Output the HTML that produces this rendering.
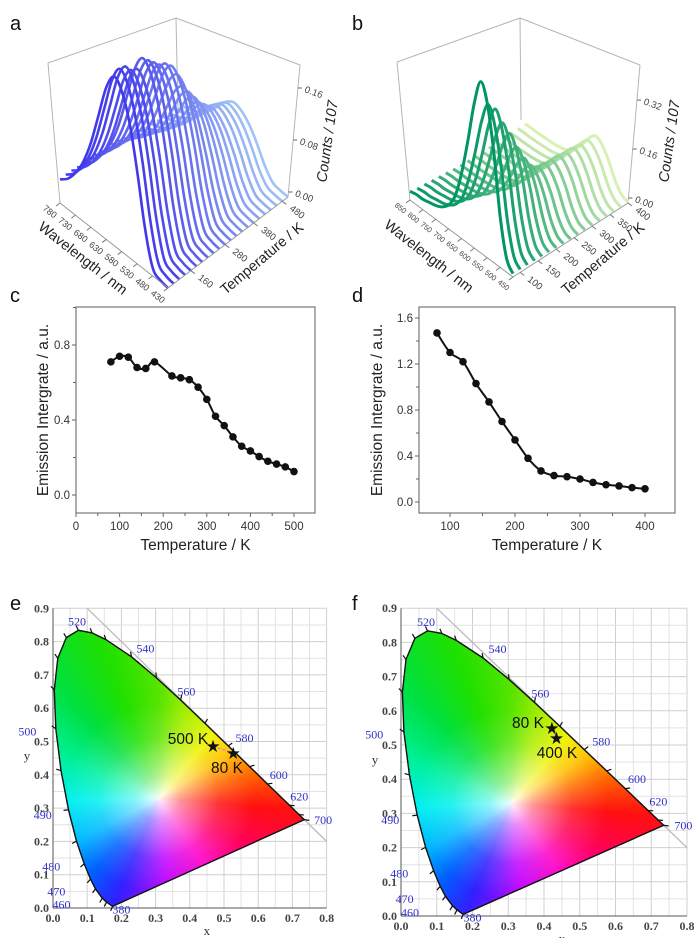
<!DOCTYPE html>
<html><head><meta charset="utf-8">
<style>
html,body{margin:0;padding:0;background:#fff;}
#wrap{position:relative;width:700px;height:938px;overflow:hidden;}
svg{position:absolute;left:0;top:0;}
.gamut{position:absolute;left:0;top:0;width:700px;height:938px;}
text{font-family:"Liberation Sans",sans-serif;}
.ser{font-family:"Liberation Serif",serif;}
</style></head>
<body>
<div id="wrap">
<svg id="back" width="700" height="938"></svg>
<div id="gamutE" class="gamut"></div>
<div id="gamutF" class="gamut"></div>
<svg id="main" width="700" height="938"></svg>
</div>
<script>
// ---------- data ----------
const aTemps = [80,100,120,140,160,180,200,220,240,260,280,300,320,340,360,380,400,420,440,460,480,500];
const aPeaks = [0.26,0.265,0.262,0.25,0.245,0.255,0.245,0.235,0.225,0.22,0.21,0.19,0.165,0.15,0.135,0.12,0.11,0.1,0.095,0.09,0.085,0.08];
const aWls = [430,455,480,505,530,555,580,605,630,655,680,705,730,755,780];
const aShape = [0.0,0.01,0.05,0.25,0.55,0.8,0.95,1.0,0.9,0.7,0.5,0.35,0.25,0.18,0.14];
const aTempTicks = [160,280,380,480];
const aWlTicks = [430,480,530,580,630,680,730,780];
const aCountTicks = [0.00,0.08,0.16];

const bTemps = [80,100,120,140,160,180,200,220,240,260,280,300,320,340,360,380,400];
const bPeaks = [0.56,0.47,0.44,0.38,0.33,0.27,0.22,0.18,0.16,0.155,0.15,0.15,0.145,0.145,0.14,0.14,0.14];
const bWls = [450,475,500,525,550,575,600,625,650,675,700,725,750,775,800,825,850];
const bShape = [0.02,0.08,0.3,0.65,0.9,1.0,0.85,0.6,0.38,0.22,0.14,0.1,0.08,0.07,0.06,0.06,0.05];
const bTempTicks = [100,150,200,250,300,350,400];
const bWlTicks = [450,500,550,600,650,700,750,800,850];
const bCountTicks = [0.00,0.16,0.32];

const cTemps = [80,100,120,140,160,180,220,240,260,280,300,320,340,360,380,400,420,440,460,480,500];
const cValues = [0.71,0.74,0.735,0.68,0.675,0.71,0.635,0.625,0.615,0.575,0.51,0.42,0.37,0.31,0.26,0.235,0.205,0.18,0.165,0.15,0.125];
const cXTicks = [0,100,200,300,400,500];
const cYTicks = [0.0,0.4,0.8];

const dTemps = [80,100,120,140,160,180,200,220,240,260,280,300,320,340,360,380,400];
const dValues = [1.47,1.30,1.22,1.03,0.87,0.70,0.54,0.38,0.27,0.23,0.22,0.20,0.17,0.15,0.14,0.125,0.115];
const dXTicks = [100,200,300,400];
const dYTicks = [0.0,0.4,0.8,1.2,1.6];

const locusNm = [380,450,460,470,475,480,485,490,495,500,505,510,515,520,525,530,540,550,560,570,580,590,600,620,640,700];
const locusX = [0.1741,0.1566,0.1440,0.1241,0.1096,0.0913,0.0687,0.0454,0.0235,0.0082,0.0039,0.0139,0.0389,0.0743,0.1142,0.1547,0.2296,0.3016,0.3731,0.4441,0.5125,0.5752,0.6270,0.6915,0.7190,0.7347];
const locusY = [0.0050,0.0177,0.0297,0.0578,0.0868,0.1327,0.2007,0.2950,0.4127,0.5384,0.6548,0.7502,0.8120,0.8338,0.8262,0.8059,0.7543,0.6923,0.6245,0.5547,0.4866,0.4242,0.3725,0.3083,0.2809,0.2653];
const nmLabels = ['520','540','560','580','600','620','700','500','490','480','470','460','380'];
const nmLabelX = [0.07,0.27,0.39,0.56,0.66,0.72,0.79,-0.075,-0.03,-0.005,0.01,0.025,0.2];
const nmLabelY = [0.86,0.78,0.65,0.51,0.40,0.335,0.265,0.53,0.28,0.125,0.05,0.01,-0.005];
const cieXTicks = [0,0.1,0.2,0.3,0.4,0.5,0.6,0.7,0.8];
const cieYTicks = [0,0.1,0.2,0.3,0.4,0.5,0.6,0.7,0.8,0.9];
const eStarsX = [0.468,0.527];
const eStarsY = [0.486,0.465];
const eStarLabels = ['500 K','80 K'];
const fStarsX = [0.422,0.435];
const fStarsY = [0.55,0.52];
const fStarLabels = ['80 K','400 K'];

// ---------- helpers ----------
const NS='http://www.w3.org/2000/svg';
const main=document.getElementById('main');
const back=document.getElementById('back');
function add(parent,tag,attrs,name,text){
  const el=document.createElementNS(NS,tag);
  for(const k in attrs) el.setAttribute(k,attrs[k]);
  
  
  if(text!==undefined) el.textContent=text;
  parent.appendChild(el);
  return el;
}
function smoothPath(pts){
  let d='M'+pts[0][0].toFixed(1)+','+pts[0][1].toFixed(1);
  for(let i=0;i<pts.length-1;i++){
    const p0=pts[i-1]||pts[i],p1=pts[i],p2=pts[i+1],p3=pts[i+2]||p2;
    const c1=[p1[0]+(p2[0]-p0[0])/6,p1[1]+(p2[1]-p0[1])/6];
    const c2=[p2[0]-(p3[0]-p1[0])/6,p2[1]-(p3[1]-p1[1])/6];
    d+=' C'+c1[0].toFixed(1)+','+c1[1].toFixed(1)+' '+c2[0].toFixed(1)+','+c2[1].toFixed(1)+' '+p2[0].toFixed(1)+','+p2[1].toFixed(1);
  }
  return d;
}
function lerpColor(a,b,t){return 'rgb('+a.map((v,i)=>Math.round(v+(b[i]-v)*t)).join(',')+')';}

// panel letters
[['a',10,30],['b',352,30],['c',10,302],['d',352,302],['e',10,610],['f',352,610]].forEach(p=>{
  add(main,'text',{x:p[1],y:p[2],'font-size':20,fill:'#111'},'panel-label-'+p[0],p[0]);
});

// ---------- waterfall ----------
function waterfall(cfg,temps,peaks,wls,shape,tTicks,wTicks,cTicks,key){
  const g=add(main,'g',{},key+'-waterfall-plot');
  const F=cfg.F,BL=cfg.BL,BR=cfg.BR;
  const tPos=t=>(t-cfg.tmin)/(cfg.tmax-cfg.tmin);
  const wPos=w=>(w-cfg.wmin)/(cfg.wmax-cfg.wmin);
  const P=(ti,wn,h)=>[F[0]+(BR[0]-F[0])*ti+(BL[0]-F[0])*wn, F[1]+(BR[1]-F[1])*ti+(BL[1]-F[1])*wn-h*cfg.vs];
  const fr=add(g,'g',{stroke:'#b5b5b5','stroke-width':1,fill:'none'},key+'-box-frame');
  cfg.frame.forEach((l,i)=>add(fr,'line',{x1:l[0],y1:l[1],x2:l[2],y2:l[3]},key+'-frame-edge'));
  for(let i=temps.length-1;i>=0;i--){
    const ti=tPos(temps[i]);
    const pts=wls.map((w,k)=>P(ti,wPos(w),peaks[i]*shape[k]));
    const col=lerpColor(cfg.c0,cfg.c1,i/(temps.length-1));
    add(g,'path',{d:smoothPath(pts),fill:'none',stroke:col,'stroke-width':cfg.sw,'stroke-linejoin':'round'},key+'-spectrum-'+temps[i]+'K');
  }
  add(g,'line',{x1:BL[0],y1:BL[1],x2:F[0],y2:F[1],stroke:'#999','stroke-width':1},key+'-wavelength-axis');
  add(g,'line',{x1:F[0],y1:F[1],x2:BR[0],y2:BR[1],stroke:'#999','stroke-width':1},key+'-temperature-axis');
  wTicks.forEach(w=>{
    const p=P(0,wPos(w),0);
    add(g,'line',{x1:p[0],y1:p[1],x2:p[0]-4,y2:p[1]+3,stroke:'#777'},key+'-wavelength-tick');
    const lx=p[0]-cfg.wo[0], ly=p[1]+cfg.wo[1];
    add(g,'text',{x:lx,y:ly,'font-size':cfg.wfs,fill:'#444','text-anchor':'middle',transform:'rotate(38 '+lx+' '+ly+')'},key+'-wavelength-tick-label',w);
  });
  tTicks.forEach(t=>{
    const p=P(tPos(t),0,0);
    add(g,'line',{x1:p[0],y1:p[1],x2:p[0]+4,y2:p[1]+3,stroke:'#777'},key+'-temperature-tick');
    add(g,'text',{x:p[0]+13,y:p[1]+13,'font-size':9.5,fill:'#444','text-anchor':'middle',transform:'rotate(38 '+(p[0]+13)+' '+(p[1]+13)+')'},key+'-temperature-tick-label',t);
  });
  const R0=cfg.rTop,R1=cfg.rBot;
  cTicks.forEach(v=>{
    const y=cfg.c0y-v*cfg.vs;
    const x=R1[0]+(R0[0]-R1[0])*(R1[1]-y)/(R1[1]-R0[1]);
    add(g,'line',{x1:x,y1:y,x2:x+4,y2:y,stroke:'#666'},key+'-count-tick');
    add(g,'text',{x:x+6,y:y+4,'font-size':9.5,fill:'#444',transform:'rotate(20 '+(x+6)+' '+(y+4)+')'},key+'-count-tick-label',v.toFixed(2));
  });
  add(g,'text',{x:cfg.wt[0],y:cfg.wt[1],'font-size':14.5,fill:'#222','text-anchor':'middle',transform:'rotate(38 '+cfg.wt[0]+' '+cfg.wt[1]+')'},key+'-wavelength-title','Wavelength / nm');
  add(g,'text',{x:cfg.tt[0],y:cfg.tt[1],'font-size':14.5,fill:'#222','text-anchor':'middle',transform:'rotate(-40 '+cfg.tt[0]+' '+cfg.tt[1]+')'},key+'-temperature-title','Temperature / K');
  add(g,'text',{x:cfg.ct[0],y:cfg.ct[1],'font-size':14.5,'font-style':'italic',fill:'#222','text-anchor':'middle',transform:'rotate(-82 '+cfg.ct[0]+' '+cfg.ct[1]+')'},key+'-counts-title','Counts / 107');
}
waterfall({F:[168,288],BL:[60,203],BR:[288,197],vs:650,tmin:80,tmax:500,wmin:430,wmax:780,
  c0:[65,55,235],c1:[160,195,245],sw:2.6,c0y:192,rTop:[300,65],rBot:[288,197],wo:[12,11],wfs:9,
  frame:[[48,63,176,18],[176,18,300,65],[176,18,178,112],[48,63,60,203],[300,65,288,197]],
  wt:[80,262],tt:[265,262],ct:[332,142]},aTemps,aPeaks,aWls,aShape,aTempTicks,aWlTicks,aCountTicks,'a');
waterfall({F:[513,277],BL:[410,200],BR:[628,203],vs:306,tmin:80,tmax:400,wmin:450,wmax:850,
  c0:[0,150,100],c1:[215,240,180],sw:3,c0y:198,rTop:[640,65],rBot:[628,203],wo:[11,10],wfs:7.5,
  frame:[[397,62,520,18],[520,18,640,65],[520,18,521,120],[397,62,410,200],[640,65,628,203]],
  wt:[426,260],tt:[606,262],ct:[674,142]},bTemps,bPeaks,bWls,bShape,bTempTicks,bWlTicks,bCountTicks,'b');

// ---------- line charts ----------
function lineChart(cfg,xs,ys,xTicks,yTicks,key){
  const g=add(main,'g',{},key+'-line-chart');
  const X=v=>cfg.x0+(v-cfg.xv0)*cfg.sx, Y=v=>cfg.y0-v*cfg.sy;
  add(g,'rect',{x:cfg.L,y:cfg.T,width:cfg.R-cfg.L,height:cfg.B-cfg.T,fill:'none',stroke:'#777','stroke-width':1.2},key+'-plot-frame');
  xTicks.forEach(v=>{
    add(g,'line',{x1:X(v),y1:cfg.B,x2:X(v),y2:cfg.B+4,stroke:'#666'},key+'-x-tick');
    add(g,'text',{x:X(v),y:cfg.B+17,'font-size':11.5,fill:'#333','text-anchor':'middle'},key+'-x-tick-label',v);
    const m=v+cfg.xminor; if(X(m)<cfg.R) add(g,'line',{x1:X(m),y1:cfg.B,x2:X(m),y2:cfg.B+3,stroke:'#666'},key+'-x-minor-tick');
  });
  yTicks.forEach(v=>{
    add(g,'line',{x1:cfg.L,y1:Y(v),x2:cfg.L-4,y2:Y(v),stroke:'#666'},key+'-y-tick');
    add(g,'text',{x:cfg.L-6,y:Y(v)+4,'font-size':11.5,fill:'#333','text-anchor':'end'},key+'-y-tick-label',v.toFixed(1));
    const m=v+0.2; if(Y(m)>cfg.T) add(g,'line',{x1:cfg.L,y1:Y(m),x2:cfg.L-3,y2:Y(m),stroke:'#666'},key+'-y-minor-tick');
  });
  add(g,'path',{d:smoothPath(xs.map((v,i)=>[X(v),Y(ys[i])])),fill:'none',stroke:'#111','stroke-width':2},key+'-series-line');
  xs.forEach((v,i)=>add(g,'circle',{cx:X(v),cy:Y(ys[i]),r:3.8,fill:'#111'},key+'-point-'+v+'K'));
  add(g,'text',{x:(cfg.L+cfg.R)/2,y:cfg.B+37,'font-size':15.5,fill:'#222','text-anchor':'middle'},key+'-x-axis-title','Temperature / K');
  add(g,'text',{x:cfg.yt,y:410,'font-size':15.5,fill:'#222','text-anchor':'middle',transform:'rotate(-90 '+cfg.yt+' 410)'},key+'-y-axis-title','Emission Intergrate / a.u.');
}
lineChart({L:76,R:315,T:307,B:513,x0:76,xv0:0,sx:0.436,y0:495,sy:187.5,xminor:50,yt:48},cTemps,cValues,cXTicks,cYTicks,'c');
lineChart({L:419,R:675,T:307,B:513,x0:450,xv0:100,sx:0.65,y0:502,sy:115,xminor:50,yt:382},dTemps,dValues,dXTicks,dYTicks,'d');

// ---------- CIE ----------
function cie(cfg,sx,sy,slabels,key,gamutId){
  const X=v=>cfg.x0+v*cfg.sx, Y=v=>cfg.y0-v*cfg.sy;
  const gb=add(back,'g',{},key+'-grid');
  for(let i=0;i<=16;i++){const v=i*0.05;add(gb,'line',{x1:X(v),y1:Y(0),x2:X(v),y2:Y(0.9),stroke:i%2?'#e2e2e2':'#cfcfcf','stroke-width':1},key+'-grid-vline');}
  for(let i=0;i<=18;i++){const v=i*0.05;add(gb,'line',{x1:X(0),y1:Y(v),x2:X(0.8),y2:Y(v),stroke:i%2?'#e2e2e2':'#cfcfcf','stroke-width':1},key+'-grid-hline');}
  add(gb,'line',{x1:X(0.1),y1:Y(0.9),x2:X(0.8),y2:Y(0.2),stroke:'#bbb','stroke-width':1.3},key+'-diagonal-line');
  const pts=locusX.map((v,i)=>X(v).toFixed(1)+'px '+Y(locusY[i]).toFixed(1)+'px').join(',');
  const gd=document.getElementById(gamutId);
  const wx=X(0.31),wy=Y(0.33);
  gd.style.clipPath='polygon('+pts+')';
  gd.style.background='radial-gradient(circle at '+wx+'px '+wy+'px, rgba(255,255,255,0.95) 0px, rgba(255,255,255,0.55) 22px, rgba(255,255,255,0.15) 60px, rgba(255,255,255,0) 95px), conic-gradient(from 0deg at '+wx+'px '+wy+'px, #58e400 0deg, #a8ee00 18deg, #eef200 40deg, #ffc000 58deg, #ff6a00 75deg, #ff1010 95deg, #ff0060 120deg, #ff00c8 145deg, #c000ff 175deg, #3020ff 203deg, #0060ff 222deg, #00b8ff 242deg, #00f0f0 268deg, #00f0a0 292deg, #00e040 318deg, #20e000 340deg, #58e400 360deg)';
  const g=add(main,'g',{},key+'-cie-diagram');
  add(g,'line',{x1:X(0),y1:Y(0),x2:X(0.8),y2:Y(0),stroke:'#555','stroke-width':1},key+'-x-axis');
  add(g,'line',{x1:X(0),y1:Y(0),x2:X(0),y2:Y(0.9),stroke:'#555','stroke-width':1},key+'-y-axis');
  add(g,'path',{d:'M'+locusX.map((v,i)=>X(v).toFixed(1)+','+Y(locusY[i]).toFixed(1)).join(' L')+' Z',fill:'none',stroke:'#111','stroke-width':1.4},key+'-spectral-locus');
  locusX.forEach((v,i)=>{
    const px=X(v),py=Y(locusY[i]);let dx=px-X(0.31),dy=py-Y(0.33);const L=Math.hypot(dx,dy);dx/=L;dy/=L;
    add(g,'line',{x1:px,y1:py,x2:px+dx*5,y2:py+dy*5,stroke:'#111','stroke-width':1.2},key+'-locus-tick-'+locusNm[i]);
  });
  cieXTicks.forEach(v=>add(g,'text',{x:X(v),y:Y(0)+14,'font-size':12,'font-weight':'bold',fill:'#444','text-anchor':'middle',class:'ser'},key+'-x-tick-label',v.toFixed(1)));
  cieYTicks.forEach(v=>add(g,'text',{x:X(0)-4,y:Y(v)+4,'font-size':12,'font-weight':'bold',fill:'#444','text-anchor':'end',class:'ser'},key+'-y-tick-label',v.toFixed(1)));
  add(g,'text',{x:X(0.45),y:Y(0)+27,'font-size':13,fill:'#333','text-anchor':'middle',class:'ser'},key+'-x-axis-title','x');
  add(g,'text',{x:X(0)-26,y:Y(0.445),'font-size':13,fill:'#333','text-anchor':'middle',class:'ser'},key+'-y-axis-title','y');
  nmLabels.forEach((t,i)=>add(g,'text',{x:X(nmLabelX[i]),y:Y(nmLabelY[i])+4,'font-size':12,fill:'#3030c8','text-anchor':'middle',class:'ser'},key+'-wavelength-label-'+t,t));
  add(g,'line',{x1:X(sx[0]),y1:Y(sy[0]),x2:X(sx[1]),y2:Y(sy[1]),stroke:'#e080c0','stroke-width':1.5,'stroke-dasharray':'3,2'},key+'-star-connector');
  sx.forEach((v,i)=>add(g,'text',{x:X(v),y:Y(sy[i])+6,'font-size':17,fill:'#111','text-anchor':'middle'},key+'-star-marker-'+i,'★'));
  cfg.lab.forEach((p,i)=>add(g,'text',{x:p[0],y:p[1],'font-size':15.5,fill:'#111','text-anchor':'middle'},key+'-star-label-'+i,slabels[i]));
}
cie({x0:53,sx:342,y0:908,sy:333,lab:[[188,744],[227,773]]},eStarsX,eStarsY,eStarLabels,'e','gamutE');
cie({x0:401,sx:357.5,y0:916,sy:342,lab:[[528,728],[557,758]]},fStarsX,fStarsY,fStarLabels,'f','gamutF');
</script>
</body></html>
